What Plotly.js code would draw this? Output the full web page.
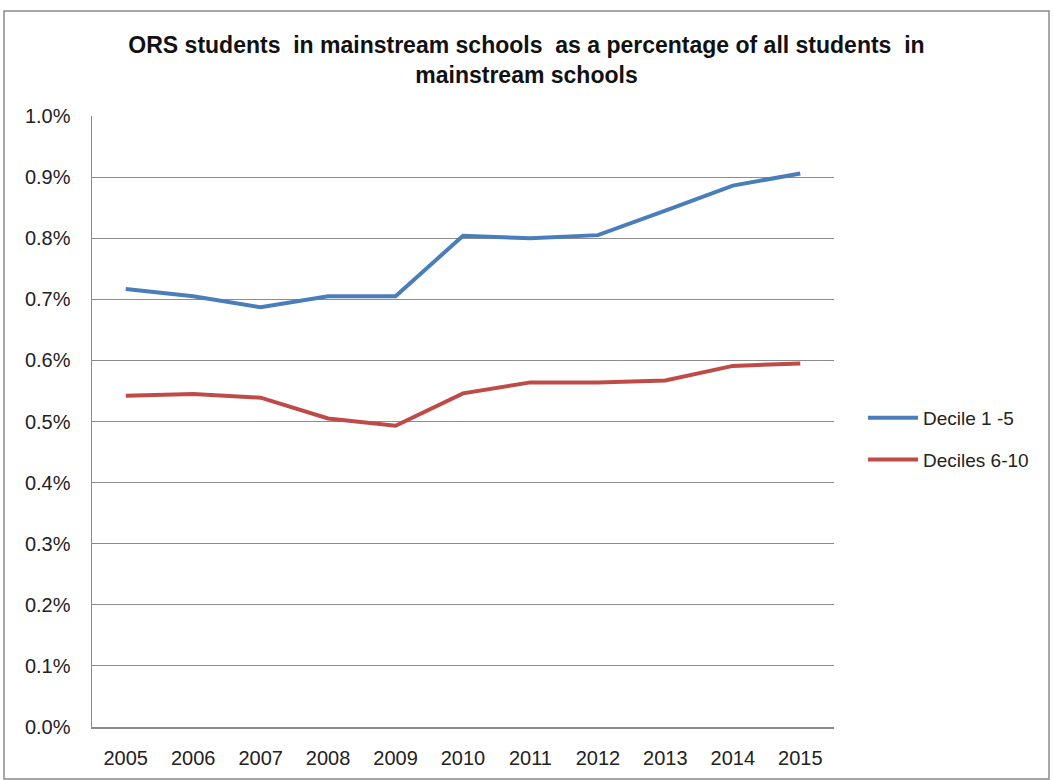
<!DOCTYPE html>
<html>
<head>
<meta charset="utf-8">
<script src="https://cdn.plot.ly/plotly-3.0.1.min.js"></script>
<style>html,body{margin:0;padding:0;background:#fff;}#chart{width:1053px;height:780px;}</style>
</head>
<body>
<div id="chart"></div>
<script>
const years = ['2005','2006','2007','2008','2009','2010','2011','2012','2013','2014','2015'];
const decile1to5 = [0.717, 0.705, 0.687, 0.705, 0.705, 0.804, 0.800, 0.805, 0.845, 0.886, 0.906];
const deciles6to10 = [0.542, 0.545, 0.539, 0.505, 0.493, 0.546, 0.564, 0.564, 0.567, 0.591, 0.595];
const seriesNames = ['Decile 1 -5', 'Deciles 6-10'];
const yTickVals = [0,0.1,0.2,0.3,0.4,0.5,0.6,0.7,0.8,0.9,1.0];
const yTickText = ['0.0%','0.1%','0.2%','0.3%','0.4%','0.5%','0.6%','0.7%','0.8%','0.9%','1.0%'];

const W = 1053, H = 780, L = 92, R = 219, T = 116, B = 53;
const pw = W - L - R, ph = H - T - B;
const px = v => (v - L) / pw;
const py = v => (H - B - v) / ph;

const traces = [
  {x: years, y: decile1to5, name: seriesNames[0], type: 'scatter', mode: 'lines', legendgroup: 'a',
   line: {color: '#4a7ebb', width: 4}},
  {x: years, y: deciles6to10, name: seriesNames[1], type: 'scatter', mode: 'lines', legendgroup: 'b',
   line: {color: '#be4b48', width: 4}}
];

const layout = {
  width: W, height: H,
  margin: {l: L, r: R, t: T, b: B},
  paper_bgcolor: '#fff', plot_bgcolor: '#fff',
  font: {family: 'Liberation Sans, Arial, sans-serif', size: 20, color: '#222'},
  title: {text: 'ORS students  in mainstream schools  as a percentage of all students  in<br>mainstream schools',
    font: {family: 'Liberation Sans, Arial, sans-serif', size: 23, color: '#111', weight: 'bold'},
    x: 0.5, xanchor: 'center', xref: 'container', yref: 'container', y: 1 - 53/H, yanchor: 'middle'},
  xaxis: {type: 'category', range: [-0.5, 10.5], showgrid: false, zeroline: false,
    showline: true, linecolor: '#8c8c8c', linewidth: 1.5, ticks: '', ticklabelstandoff: 12,
    tickfont: {size: 20}, fixedrange: true},
  yaxis: {range: [0, 1.0], tickvals: yTickVals, ticktext: yTickText, showgrid: true,
    gridcolor: '#8c8c8c', gridwidth: 1, zeroline: false, showline: true, linecolor: '#8c8c8c',
    linewidth: 1.5, ticks: '', ticklabelstandoff: 16, tickfont: {size: 20}, fixedrange: true},
  showlegend: true,
  legend: {x: px(863), y: py(439), xanchor: 'left', yanchor: 'middle', font: {size: 19},
    bgcolor: 'rgba(0,0,0,0)', tracegroupgap: 14, itemwidth: 50},
  shapes: [
    {type: 'rect', xref: 'paper', yref: 'paper', x0: px(4), x1: px(1049), y0: py(779), y1: py(11),
     line: {color: '#8a8a8a', width: 1.5}, fillcolor: 'rgba(0,0,0,0)', layer: 'below'}
  ]
};

Plotly.newPlot('chart', traces, layout, {displayModeBar: false, staticPlot: true});
</script>
</body>
</html>
